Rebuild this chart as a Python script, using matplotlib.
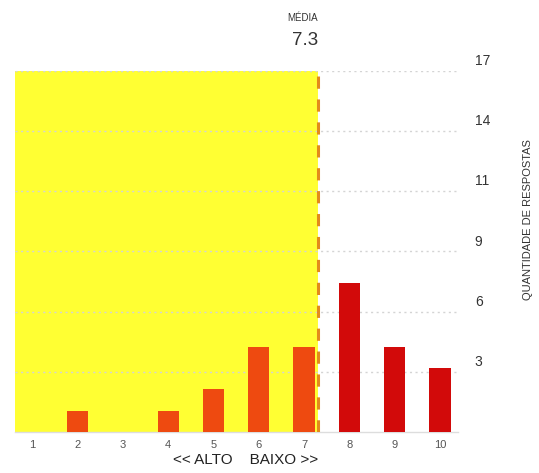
import matplotlib.pyplot as plt
import matplotlib.transforms as mtransforms

# notas e quantidade de respostas
notas = [1, 2, 3, 4, 5, 6, 7, 8, 9, 10]
respostas = [0, 1, 0, 1, 2, 4, 4, 7, 4, 3]
rotulos_y = ["3", "6", "9", "11", "14", "17"]
y_max = 17

plt.rcParams['font.family'] = ['Liberation Sans', 'DejaVu Sans']

media = sum(n * r for n, r in zip(notas, respostas)) / sum(respostas)

fig = plt.figure(figsize=(5.39, 4.73), dpi=100)
ax = fig.add_axes([0.028, 0.087, 0.822, 0.763])
ax.set_xlim(0.62, 10.4)
ax.set_ylim(0, y_max)

# zona amarela até a média
ax.axvspan(0.62, media, color='#FFFF33', zorder=0, lw=0)

# barras
cores = ['#EE4A10' if n <= media else '#D20A0A' for n in notas]
ax.bar(notas, respostas, width=0.47, color=cores, zorder=3)

# linha da média
ax.axvline(media, color='#E38A1C', lw=2.2, dashes=(4, 3.5), zorder=4)

# grade e eixo y à direita
pos_y = [y_max * (i + 1) / len(rotulos_y) for i in range(len(rotulos_y))]
ax.set_yticks(pos_y)
ax.set_yticklabels(rotulos_y)
ax.yaxis.tick_right()
ax.tick_params(axis='y', length=0, pad=12, labelsize=10, labelcolor='#333333')
offset = mtransforms.ScaledTranslation(0, 2 / 72, fig.dpi_scale_trans)
for lab in ax.get_yticklabels():
    lab.set_verticalalignment('bottom')
    lab.set_transform(lab.get_transform() + offset)
ax.grid(axis='y', color='#d4d4d4', linestyle=(0, (1.5, 2.5)), lw=1, zorder=1)

ax.set_xticks(notas)
ax.set_xticklabels([str(n) for n in notas])
ax.tick_params(axis='x', length=0, pad=6, labelsize=8, labelcolor='#555555')

for s in ['top', 'left', 'right']:
    ax.spines[s].set_visible(False)
ax.spines['bottom'].set_color('#dddddd')
ax.spines['bottom'].set_linewidth(1)

fig.text(0.455, 0.012, "<< ALTO    BAIXO >>", ha='center', va='bottom', fontsize=11, color='#222222')
fig.text(0.98, 0.535, "QUANTIDADE DE RESPOSTAS", rotation=90, ha='center', va='center',
         fontsize=8, color='#333333')

# título da média
trans = mtransforms.blended_transform_factory(ax.transData, fig.transFigure)
ax.text(media, 0.962, "MÉDIA", transform=trans, ha='right', va='center', fontsize=7, color='#333333')
ax.text(media, 0.915, f"{media:.1f}", transform=trans, ha='right', va='center', fontsize=13.5, color='#333333')

fig.savefig("out.png", dpi=100)
